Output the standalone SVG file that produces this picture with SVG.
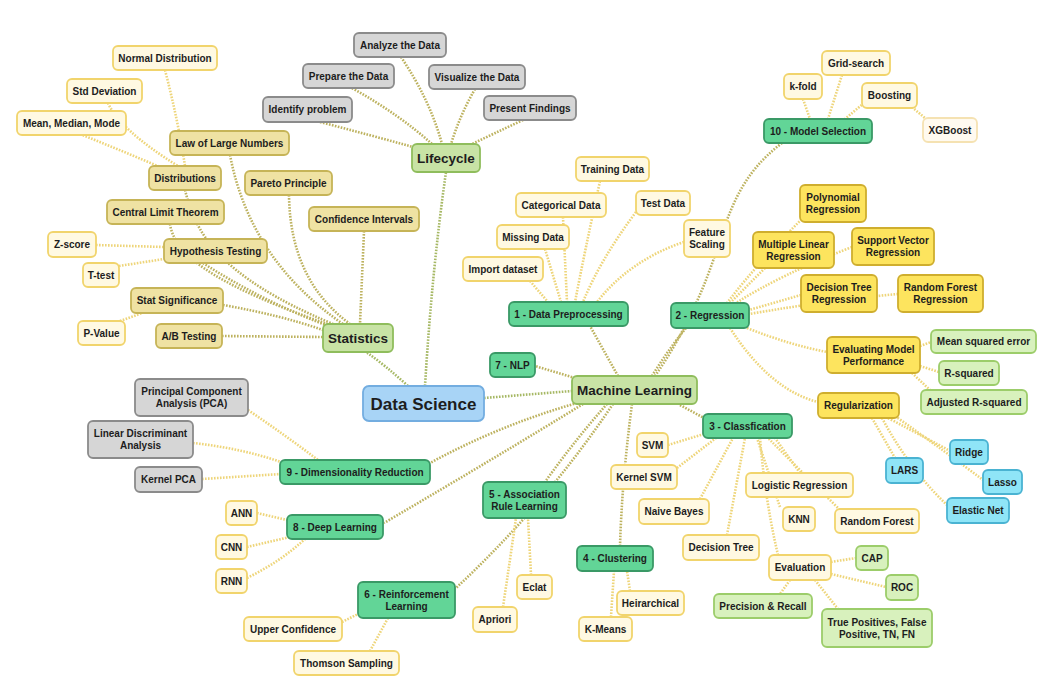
<svg xmlns="http://www.w3.org/2000/svg" width="1043" height="679" viewBox="0 0 1043 679">
<style>
.t{font-family:"Liberation Sans",Arial,sans-serif;font-weight:bold;font-size:10px;fill:#1d1d1d;text-anchor:middle}
.tb{font-size:13.5px}
.tx{font-size:17px}
rect{stroke-width:1.8}
.cat{fill:#c8e3a5;stroke:#8fbd5c}
.ds{fill:#a8d4f6;stroke:#73ade0}
.sub{fill:#62d597;stroke:#3a9966}
.gray{fill:#d6d6d6;stroke:#8b8b8b}
.khaki{fill:#efe2a3;stroke:#c6b457}
.cream{fill:#fff9e2;stroke:#f1d46c}
.yel{fill:#fde45e;stroke:#cfae2e}
.lg{fill:#d8f1bd;stroke:#9ccd6a}
.cy{fill:#8fe5f7;stroke:#4ab3d2}
.pale{fill:#fffaf0;stroke:#f5e2b2}
.c path{fill:none;stroke-width:2.6;stroke-dasharray:1.6 1.4}
.c1{stroke:#a6b864}
.c2{stroke:#bdb25f}
.c3{stroke:#eed57a}
</style>
<rect x="0" y="0" width="1043" height="679" fill="#ffffff" style="stroke:none"/>
<g id="connectors" class="c">
<path class="c1" d="M425,386 Q432,270 446,172"/>
<path class="c1" d="M408,386 Q385,365 366,352"/>
<path class="c1" d="M484,398 L572,391"/>
<path class="c2" d="M575,378 L535,366"/>
<path class="c2" d="M618,376 L590,326"/>
<path class="c2" d="M652,376 Q668,350 686,328"/>
<path class="c2" d="M655,376 C680,340 700,300 715,255 S740,175 782,143"/>
<path class="c2" d="M680,405 L704,418"/>
<path class="c2" d="M632,404 Q622,480 620,546"/>
<path class="c2" d="M607,404 Q575,440 545,482"/>
<path class="c2" d="M613,404 Q545,505 456,588"/>
<path class="c2" d="M583,404 Q500,455 384,523"/>
<path class="c2" d="M577,403 Q500,425 430,463"/>
<path class="c2" d="M320,122 Q370,135 413,147"/>
<path class="c2" d="M352,88 Q400,115 432,144"/>
<path class="c2" d="M401,57 Q430,100 442,144"/>
<path class="c2" d="M475,89 Q460,115 451,144"/>
<path class="c2" d="M523,120 Q495,133 470,145"/>
<path class="c2" d="M230,155 Q250,260 343,324"/>
<path class="c2" d="M289,195 Q290,280 350,324"/>
<path class="c2" d="M364,231 L360,324"/>
<path class="c2" d="M185,190 C195,230 215,275 333,324"/>
<path class="c2" d="M170,224 C175,260 230,290 330,325"/>
<path class="c2" d="M203,263 Q260,300 328,326"/>
<path class="c2" d="M223,305 Q280,315 323,330"/>
<path class="c2" d="M222,336 L323,337"/>
<path class="c3" d="M165,70 Q178,120 185,166"/>
<path class="c3" d="M108,103 Q120,130 178,166"/>
<path class="c3" d="M80,134 Q120,150 160,167"/>
<path class="c3" d="M96,245 L164,247"/>
<path class="c3" d="M119,266 L164,259"/>
<path class="c3" d="M120,321 L145,312"/>
<path class="c3" d="M248,410 Q285,435 318,460"/>
<path class="c3" d="M193,443 Q240,448 281,462"/>
<path class="c3" d="M202,479 L281,474"/>
<path class="c3" d="M257,513 L287,520"/>
<path class="c3" d="M247,547 L290,537"/>
<path class="c3" d="M247,578 Q280,562 305,539"/>
<path class="c3" d="M342,622 L358,614"/>
<path class="c3" d="M370,651 L388,618"/>
<path class="c3" d="M503,607 Q510,560 516,518"/>
<path class="c3" d="M531,575 L528,518"/>
<path class="c3" d="M611,617 L614,571"/>
<path class="c3" d="M630,591 L627,571"/>
<path class="c3" d="M530,281 L548,302"/>
<path class="c3" d="M545,249 L561,302"/>
<path class="c3" d="M563,217 L567,302"/>
<path class="c3" d="M600,181 Q585,250 575,302"/>
<path class="c3" d="M636,212 Q600,260 583,302"/>
<path class="c3" d="M684,242 Q630,260 597,302"/>
<path class="c3" d="M803,99 L810,119"/>
<path class="c3" d="M842,75 L828,119"/>
<path class="c3" d="M864,103 L845,119"/>
<path class="c3" d="M912,107 L926,119"/>
<path class="c3" d="M806,215 Q760,260 727,303"/>
<path class="c3" d="M765,268 L730,303"/>
<path class="c3" d="M852,247 Q780,275 736,303"/>
<path class="c3" d="M801,295 L749,310"/>
<path class="c3" d="M898,294 Q830,300 749,314"/>
<path class="c3" d="M747,328 Q790,345 827,352"/>
<path class="c3" d="M730,328 Q770,390 818,402"/>
<path class="c3" d="M920,346 L931,342"/>
<path class="c3" d="M920,366 L939,372"/>
<path class="c3" d="M912,373 L930,390"/>
<path class="c3" d="M888,418 Q930,440 950,451"/>
<path class="c3" d="M872,418 L895,458"/>
<path class="c3" d="M895,416 Q950,455 983,480"/>
<path class="c3" d="M882,418 Q910,470 947,505"/>
<path class="c3" d="M668,445 L704,434"/>
<path class="c3" d="M677,468 L716,438"/>
<path class="c3" d="M700,499 L733,438"/>
<path class="c3" d="M727,535 L745,438"/>
<path class="c3" d="M800,473 L775,438"/>
<path class="c3" d="M780,507 L757,438"/>
<path class="c3" d="M778,555 Q765,500 760,438"/>
<path class="c3" d="M840,510 Q800,470 768,438"/>
<path class="c3" d="M831,562 L856,558"/>
<path class="c3" d="M831,574 L886,587"/>
<path class="c3" d="M790,580 L780,594"/>
<path class="c3" d="M815,580 L838,609"/>
</g>
<g id="lifecycle"><rect class="cat" x="412" y="144" width="68" height="28" rx="5"/><text class="t tb" x="446" y="163">Lifecycle</text></g>
<g id="analyze"><rect class="gray" x="354" y="33" width="92" height="24" rx="5"/><text class="t" x="400" y="48.5">Analyze the Data</text></g>
<g id="prepare"><rect class="gray" x="303" y="64" width="91" height="24" rx="5"/><text class="t" x="348.5" y="79.5">Prepare the Data</text></g>
<g id="visualize"><rect class="gray" x="429" y="65" width="96" height="24" rx="5"/><text class="t" x="477" y="80.5">Visualize the Data</text></g>
<g id="identify"><rect class="gray" x="263" y="97" width="89" height="25" rx="5"/><text class="t" x="307.5" y="113">Identify problem</text></g>
<g id="present"><rect class="gray" x="484" y="96" width="92" height="24" rx="5"/><text class="t" x="530" y="111.5">Present Findings</text></g>
<g id="statistics"><rect class="cat" x="323" y="324" width="70" height="28" rx="5"/><text class="t tb" x="358" y="343">Statistics</text></g>
<g id="normal"><rect class="cream" x="113" y="46" width="104" height="24" rx="5"/><text class="t" x="165" y="61.5">Normal Distribution</text></g>
<g id="stddev"><rect class="cream" x="67" y="79" width="75" height="24" rx="5"/><text class="t" x="104.5" y="94.5">Std Deviation</text></g>
<g id="mean"><rect class="cream" x="17" y="111" width="109" height="24" rx="5"/><text class="t" x="71.5" y="126.5">Mean, Median, Mode</text></g>
<g id="lln"><rect class="khaki" x="170" y="131" width="119" height="24" rx="5"/><text class="t" x="229.5" y="146.5">Law of Large Numbers</text></g>
<g id="distributions"><rect class="khaki" x="149" y="166" width="72" height="24" rx="5"/><text class="t" x="185" y="181.5">Distributions</text></g>
<g id="pareto"><rect class="khaki" x="245" y="171" width="87" height="24" rx="5"/><text class="t" x="288.5" y="186.5">Pareto Principle</text></g>
<g id="clt"><rect class="khaki" x="107" y="200" width="117" height="24" rx="5"/><text class="t" x="165.5" y="215.5">Central Limit Theorem</text></g>
<g id="confidence"><rect class="khaki" x="309" y="207" width="110" height="24" rx="5"/><text class="t" x="364" y="222.5">Confidence Intervals</text></g>
<g id="zscore"><rect class="cream" x="48" y="232" width="48" height="25" rx="5"/><text class="t" x="72" y="248">Z-score</text></g>
<g id="hypothesis"><rect class="khaki" x="164" y="239" width="103" height="24" rx="5"/><text class="t" x="215.5" y="254.5">Hypothesis Testing</text></g>
<g id="ttest"><rect class="cream" x="83" y="263" width="36" height="24" rx="5"/><text class="t" x="101" y="278.5">T-test</text></g>
<g id="statsig"><rect class="khaki" x="131" y="288" width="92" height="25" rx="5"/><text class="t" x="177" y="304">Stat Significance</text></g>
<g id="pvalue"><rect class="cream" x="78" y="321" width="47" height="24" rx="5"/><text class="t" x="101.5" y="336.5">P-Value</text></g>
<g id="abtesting"><rect class="khaki" x="156" y="324" width="66" height="24" rx="5"/><text class="t" x="189" y="339.5">A/B Testing</text></g>
<g id="datascience"><rect class="ds" x="363" y="386" width="121" height="35" rx="6"/><text class="t tx" x="423.5" y="409.5">Data Science</text></g>
<g id="pca"><rect class="gray" x="135" y="379" width="113" height="37" rx="5"/><text class="t" x="191.5" y="395">Principal Component</text><text class="t" x="191.5" y="407">Analysis (PCA)</text></g>
<g id="lda"><rect class="gray" x="88" y="421" width="105" height="37" rx="5"/><text class="t" x="140.5" y="437">Linear Discriminant</text><text class="t" x="140.5" y="449">Analysis</text></g>
<g id="kpca"><rect class="gray" x="135" y="467" width="67" height="25" rx="5"/><text class="t" x="168.5" y="483">Kernel PCA</text></g>
<g id="dimred"><rect class="sub" x="280" y="460" width="150" height="24" rx="5"/><text class="t" x="355" y="475.5">9 - Dimensionality Reduction</text></g>
<g id="ann"><rect class="cream" x="226" y="501" width="31" height="24" rx="5"/><text class="t" x="241.5" y="516.5">ANN</text></g>
<g id="deeplearning"><rect class="sub" x="287" y="515" width="96" height="24" rx="5"/><text class="t" x="335" y="530.5">8 - Deep Learning</text></g>
<g id="cnn"><rect class="cream" x="216" y="535" width="31" height="24" rx="5"/><text class="t" x="231.5" y="550.5">CNN</text></g>
<g id="rnn"><rect class="cream" x="216" y="569" width="31" height="24" rx="5"/><text class="t" x="231.5" y="584.5">RNN</text></g>
<g id="reinforcement"><rect class="sub" x="358" y="582" width="97" height="36" rx="5"/><text class="t" x="406.5" y="597.5">6 - Reinforcement</text><text class="t" x="406.5" y="609.5">Learning</text></g>
<g id="ucb"><rect class="cream" x="244" y="617" width="98" height="24" rx="5"/><text class="t" x="293" y="632.5">Upper Confidence</text></g>
<g id="thomson"><rect class="cream" x="294" y="651" width="105" height="24" rx="5"/><text class="t" x="346.5" y="666.5">Thomson Sampling</text></g>
<g id="association"><rect class="sub" x="483" y="482" width="83" height="36" rx="5"/><text class="t" x="524.5" y="497.5">5 - Association</text><text class="t" x="524.5" y="509.5">Rule Learning</text></g>
<g id="eclat"><rect class="cream" x="517" y="575" width="35" height="24" rx="5"/><text class="t" x="534.5" y="590.5">Eclat</text></g>
<g id="apriori"><rect class="cream" x="473" y="607" width="44" height="25" rx="5"/><text class="t" x="495" y="623">Apriori</text></g>
<g id="machinelearning"><rect class="cat" x="572" y="376" width="125" height="28" rx="5"/><text class="t tb" x="634.5" y="395">Machine Learning</text></g>
<g id="nlp"><rect class="sub" x="490" y="353" width="45" height="24" rx="5"/><text class="t" x="512.5" y="368.5">7 - NLP</text></g>
<g id="preprocessing"><rect class="sub" x="509" y="302" width="119" height="24" rx="5"/><text class="t" x="568.5" y="317.5">1 - Data Preprocessing</text></g>
<g id="training"><rect class="cream" x="576" y="157" width="73" height="24" rx="5"/><text class="t" x="612.5" y="172.5">Training Data</text></g>
<g id="categorical"><rect class="cream" x="516" y="193" width="90" height="24" rx="5"/><text class="t" x="561" y="208.5">Categorical Data</text></g>
<g id="testdata"><rect class="cream" x="636" y="191" width="54" height="24" rx="5"/><text class="t" x="663" y="206.5">Test Data</text></g>
<g id="missing"><rect class="cream" x="497" y="225" width="72" height="24" rx="5"/><text class="t" x="533" y="240.5">Missing Data</text></g>
<g id="feature"><rect class="cream" x="684" y="220" width="46" height="37" rx="5"/><text class="t" x="707" y="236">Feature</text><text class="t" x="707" y="248">Scaling</text></g>
<g id="import"><rect class="cream" x="463" y="257" width="80" height="24" rx="5"/><text class="t" x="503" y="272.5">Import dataset</text></g>
<g id="modelselection"><rect class="sub" x="764" y="119" width="108" height="24" rx="5"/><text class="t" x="818" y="134.5">10 - Model Selection</text></g>
<g id="gridsearch"><rect class="cream" x="822" y="51" width="68" height="24" rx="5"/><text class="t" x="856" y="66.5">Grid-search</text></g>
<g id="kfold"><rect class="cream" x="784" y="74" width="38" height="25" rx="5"/><text class="t" x="803" y="90">k-fold</text></g>
<g id="boosting"><rect class="cream" x="862" y="83" width="55" height="25" rx="5"/><text class="t" x="889.5" y="99">Boosting</text></g>
<g id="xgboost"><rect class="pale" x="923" y="118" width="54" height="24" rx="5"/><text class="t" x="950" y="133.5">XGBoost</text></g>
<g id="regression"><rect class="sub" x="671" y="303" width="78" height="25" rx="5"/><text class="t" x="710" y="319">2 - Regression</text></g>
<g id="polynomial"><rect class="yel" x="800" y="185" width="66" height="37" rx="5"/><text class="t" x="833" y="201">Polynomial</text><text class="t" x="833" y="213">Regression</text></g>
<g id="mlr"><rect class="yel" x="753" y="232" width="81" height="36" rx="5"/><text class="t" x="793.5" y="247.5">Multiple Linear</text><text class="t" x="793.5" y="259.5">Regression</text></g>
<g id="svr"><rect class="yel" x="852" y="228" width="82" height="37" rx="5"/><text class="t" x="893" y="244">Support Vector</text><text class="t" x="893" y="256">Regression</text></g>
<g id="dtr"><rect class="yel" x="801" y="275" width="76" height="37" rx="5"/><text class="t" x="839" y="291">Decision Tree</text><text class="t" x="839" y="303">Regression</text></g>
<g id="rfr"><rect class="yel" x="898" y="275" width="85" height="37" rx="5"/><text class="t" x="940.5" y="291">Random Forest</text><text class="t" x="940.5" y="303">Regression</text></g>
<g id="evalmodel"><rect class="yel" x="827" y="337" width="93" height="36" rx="5"/><text class="t" x="873.5" y="352.5">Evaluating Model</text><text class="t" x="873.5" y="364.5">Performance</text></g>
<g id="mse"><rect class="lg" x="931" y="330" width="105" height="23" rx="5"/><text class="t" x="983.5" y="345">Mean squared error</text></g>
<g id="rsquared"><rect class="lg" x="939" y="361" width="60" height="24" rx="5"/><text class="t" x="969" y="376.5">R-squared</text></g>
<g id="adjrsquared"><rect class="lg" x="921" y="390" width="106" height="24" rx="5"/><text class="t" x="974" y="405.5">Adjusted R-squared</text></g>
<g id="regularization"><rect class="yel" x="818" y="393" width="81" height="25" rx="5"/><text class="t" x="858.5" y="409">Regularization</text></g>
<g id="ridge"><rect class="cy" x="950" y="440" width="38" height="24" rx="5"/><text class="t" x="969" y="455.5">Ridge</text></g>
<g id="lars"><rect class="cy" x="886" y="458" width="37" height="25" rx="5"/><text class="t" x="904.5" y="474">LARS</text></g>
<g id="lasso"><rect class="cy" x="983" y="470" width="39" height="24" rx="5"/><text class="t" x="1002.5" y="485.5">Lasso</text></g>
<g id="elasticnet"><rect class="cy" x="947" y="498" width="62" height="25" rx="5"/><text class="t" x="978" y="514">Elastic Net</text></g>
<g id="classification"><rect class="sub" x="703" y="414" width="89" height="24" rx="5"/><text class="t" x="747.5" y="429.5">3 - Classfication</text></g>
<g id="svm"><rect class="cream" x="637" y="433" width="31" height="24" rx="5"/><text class="t" x="652.5" y="448.5">SVM</text></g>
<g id="kernelsvm"><rect class="cream" x="611" y="465" width="66" height="24" rx="5"/><text class="t" x="644" y="480.5">Kernel SVM</text></g>
<g id="logreg"><rect class="cream" x="746" y="473" width="107" height="24" rx="5"/><text class="t" x="799.5" y="488.5">Logistic Regression</text></g>
<g id="naivebayes"><rect class="cream" x="639" y="499" width="70" height="25" rx="5"/><text class="t" x="674" y="515">Naive Bayes</text></g>
<g id="knn"><rect class="cream" x="783" y="507" width="32" height="24" rx="5"/><text class="t" x="799" y="522.5">KNN</text></g>
<g id="randomforest"><rect class="cream" x="835" y="509" width="84" height="24" rx="5"/><text class="t" x="877" y="524.5">Random Forest</text></g>
<g id="decisiontree"><rect class="cream" x="683" y="535" width="76" height="25" rx="5"/><text class="t" x="721" y="551">Decision Tree</text></g>
<g id="clustering"><rect class="sub" x="577" y="546" width="76" height="25" rx="5"/><text class="t" x="615" y="562">4 - Clustering</text></g>
<g id="evaluation"><rect class="cream" x="769" y="555" width="62" height="25" rx="5"/><text class="t" x="800" y="571">Evaluation</text></g>
<g id="cap"><rect class="lg" x="856" y="546" width="32" height="24" rx="5"/><text class="t" x="872" y="561.5">CAP</text></g>
<g id="roc"><rect class="lg" x="886" y="575" width="32" height="25" rx="5"/><text class="t" x="902" y="591">ROC</text></g>
<g id="heirarchical"><rect class="cream" x="617" y="591" width="67" height="24" rx="5"/><text class="t" x="650.5" y="606.5">Heirarchical</text></g>
<g id="precision"><rect class="lg" x="714" y="594" width="98" height="24" rx="5"/><text class="t" x="763" y="609.5">Precision &amp; Recall</text></g>
<g id="kmeans"><rect class="cream" x="579" y="617" width="53" height="24" rx="5"/><text class="t" x="605.5" y="632.5">K-Means</text></g>
<g id="truepositives"><rect class="lg" x="822" y="609" width="110" height="38" rx="5"/><text class="t" x="877" y="625.5">True Positives, False</text><text class="t" x="877" y="637.5">Positive, TN, FN</text></g>
</svg>
